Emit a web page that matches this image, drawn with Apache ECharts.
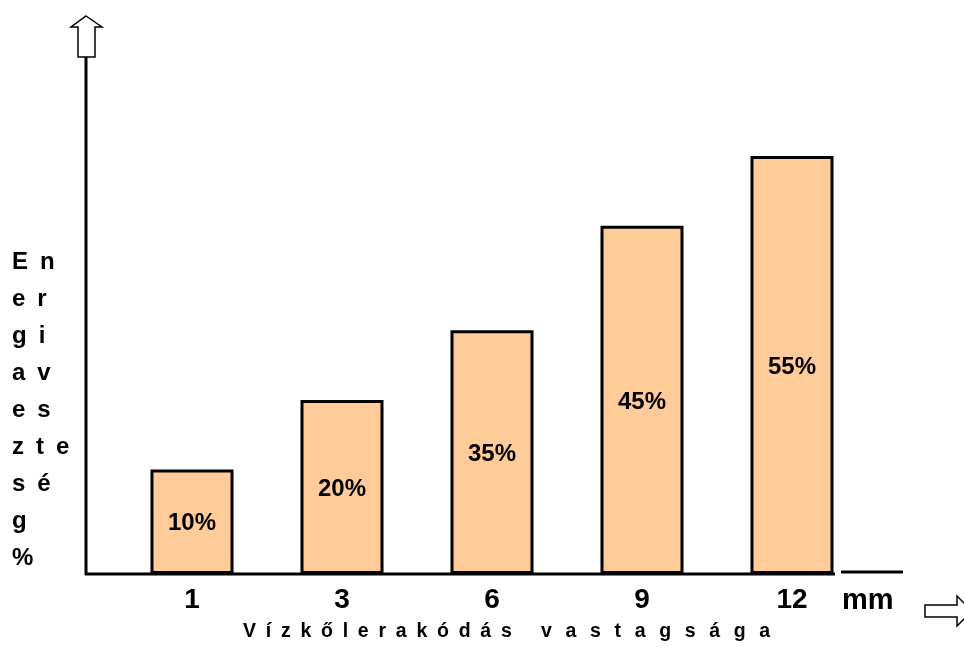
<!DOCTYPE html>
<html>
<head>
<meta charset="utf-8">
<script src="https://cdn.jsdelivr.net/npm/echarts@6/dist/echarts.min.js"></script>
<style>
    html, body { margin: 0; padding: 0; background: #fff; }
    #chart { width: 964px; height: 648px; }
</style>
</head>
<body>
<div id="chart"></div>
<script>
// scale thickness (mm) on the x axis
const categories = ["1", "3", "6", "9", "12"];
// bar heights as drawn (arbitrary units)
const barHeights = [15, 25, 35, 50, 60];
// text written inside the bars
const barLabels = ["10%", "20%", "35%", "45%", "55%"];

const yTitle = ["E n", "e r", "g i", "a v", "e s", "z t e", "s é", "g", "%"];
const xTitle = ["Vízkőlerakódás", "vastagsága"];

const FONT = "Liberation Sans, Arial, sans-serif";
const EN = "\u2002";
const THIN = "\u2009";

const chart = echarts.init(document.getElementById("chart"));

chart.setOption({
    backgroundColor: "#fff",
    animation: false,
    grid: {
        left: 117,
        right: 97,
        top: 60,
        bottom: 74,
    },
    xAxis: {
        type: "category",
        data: categories,
        axisLine: { show: false },
        axisTick: { show: false },
        axisLabel: {
            margin: 12,
            color: "#000",
            fontSize: 28,
            fontWeight: "bold",
            fontFamily: FONT,
        },
    },
    yAxis: {
        type: "value",
        min: 0,
        max: 73.8,
        axisLine: { show: false },
        axisTick: { show: false },
        axisLabel: { show: false },
        splitLine: { show: false },
    },
    series: [
        {
            type: "bar",
            data: barHeights,
            barWidth: 83,
            itemStyle: {
                color: "#FFCC99",
                borderColor: "#000",
                borderWidth: 3,
            },
            label: {
                show: true,
                position: "inside",
                offset: [0, 2],
                color: "#000",
                fontSize: 24,
                fontWeight: "bold",
                fontFamily: FONT,
                formatter: (p) => barLabels[p.dataIndex],
            },
        },
    ],
    graphic: [
        // y axis line
        {
            type: "line",
            shape: { x1: 86, y1: 55, x2: 86, y2: 575 },
            style: { stroke: "#000", lineWidth: 3 },
        },
        // x axis line
        {
            type: "line",
            shape: { x1: 85, y1: 574, x2: 835, y2: 574 },
            style: { stroke: "#000", lineWidth: 3 },
        },
        {
            type: "line",
            shape: { x1: 841, y1: 572, x2: 903, y2: 572 },
            style: { stroke: "#000", lineWidth: 3 },
        },
        // up arrow
        {
            type: "polygon",
            shape: {
                points: [[86, 16], [102, 27], [95, 27], [95, 57], [78, 57], [78, 27], [71, 27]],
            },
            style: { fill: "#fff", stroke: "#000", lineWidth: 1.5 },
        },
        // right arrow
        {
            type: "polygon",
            shape: {
                points: [[925, 605], [957, 605], [957, 596], [972, 611], [957, 626], [957, 617], [925, 617]],
            },
            style: { fill: "#fff", stroke: "#000", lineWidth: 1.5 },
        },
        {
            type: "text",
            left: 842,
            top: 586,
            style: {
                text: "mm",
                fill: "#000",
                font: "bold 29px " + FONT,
            },
        },
        {
            type: "text",
            left: 12,
            top: 244,
            style: {
                text: yTitle.map((s) => s.split(" ").join(EN)).join("\n"),
                fill: "#000",
                font: "bold 24px " + FONT,
                lineHeight: 37,
            },
        },
        {
            type: "text",
            left: 243,
            top: 622,
            style: {
                text: xTitle[0].split("").join(EN) + EN + EN + EN + xTitle[1].split("").join(EN + THIN),
                fill: "#000",
                font: "bold 19.5px " + FONT,
            },
        },
    ],
});
</script>
</body>
</html>
